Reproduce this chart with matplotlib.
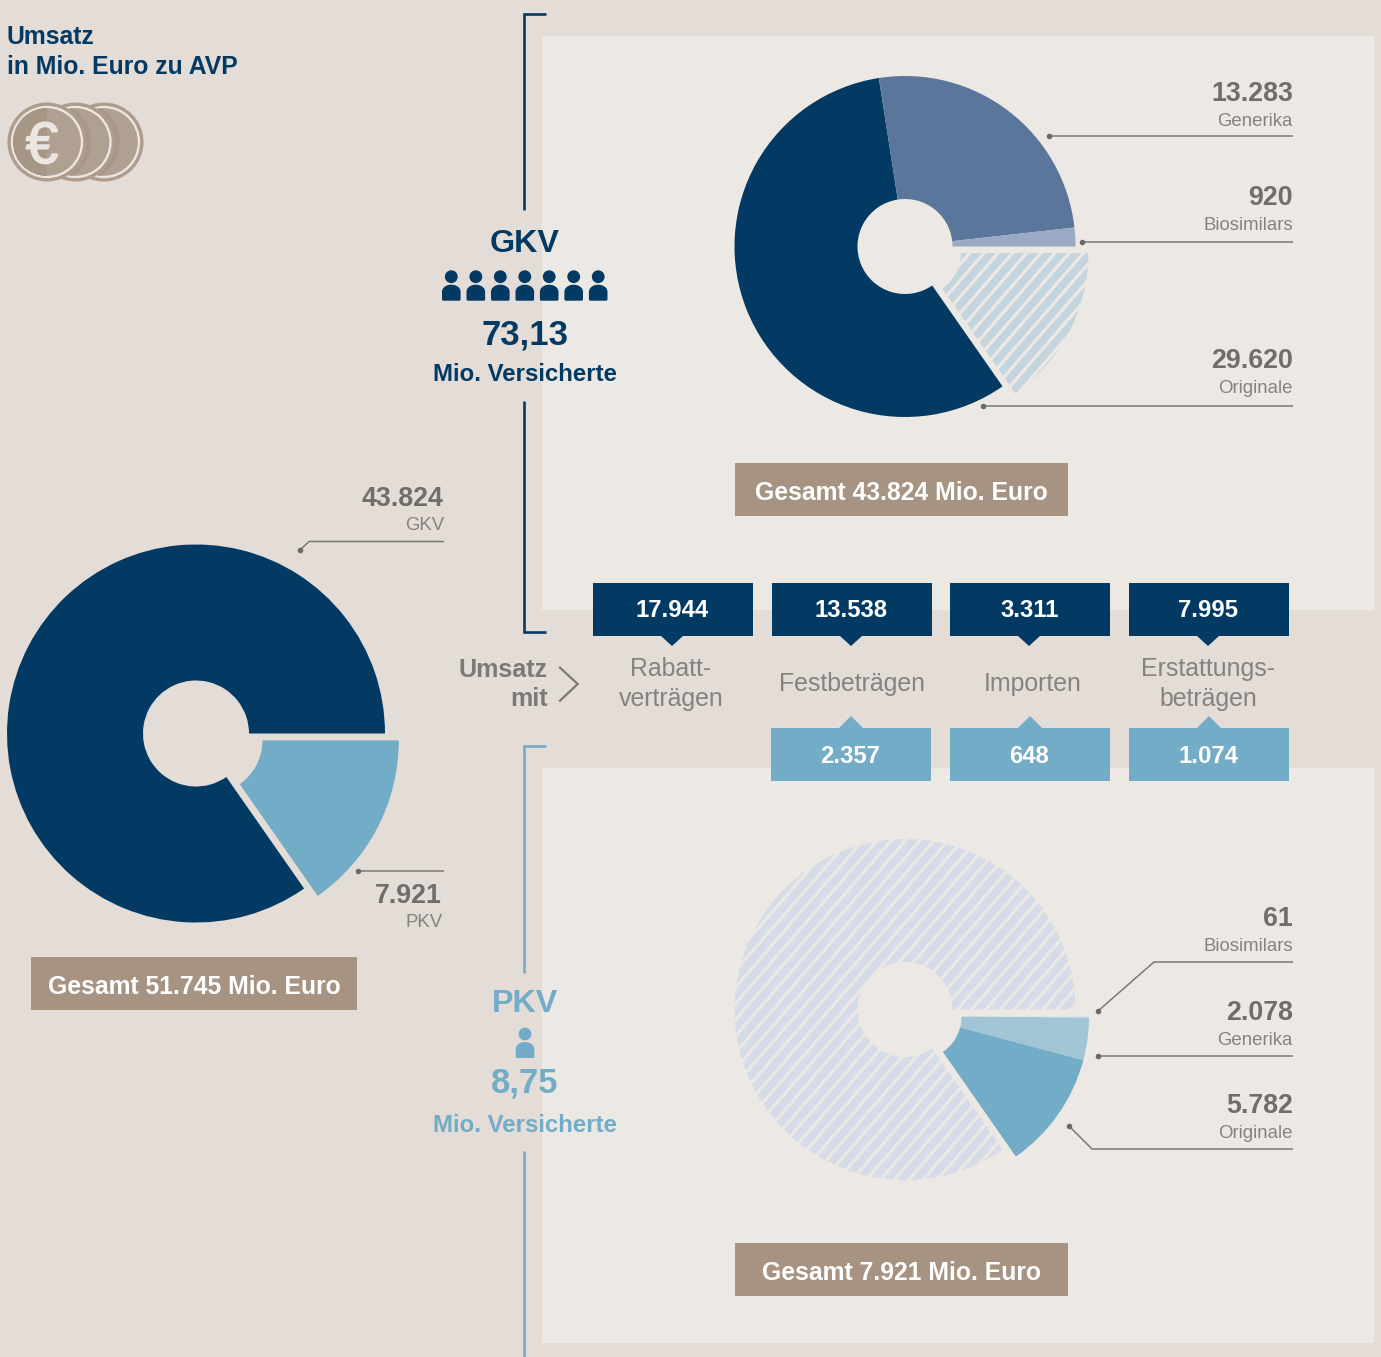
import numpy as np
import matplotlib
matplotlib.use("Agg")
import matplotlib.pyplot as plt
import matplotlib.patheffects as pe
from matplotlib.patches import Rectangle, Circle, Polygon, Wedge

plt.rcParams['font.family'] = ['Liberation Sans', 'DejaVu Sans']

# data
total_labels = ['PKV', 'GKV']
total_values = [7921, 43824]
gkv_labels = ['Generika', 'Biosimilars', 'Originale']
gkv_values = [13283, 920, 29620]
pkv_labels = ['Biosimilars', 'Generika', 'Originale']
pkv_values = [61, 2078, 5782]
gkv_box_values = [17944, 13538, 3311, 7995]
pkv_box_values = [2357, 648, 1074]
box_labels = ['Rabatt-\nverträgen', 'Festbeträgen', 'Importen', 'Erstattungs-\nbeträgen']
insured_gkv = '73,13'
insured_pkv = '8,75'

# colours
BG = '#e3dcd7'
PANEL = '#ece9e4'
NAVY = '#023a63'
LIGHTBLUE = '#73acc7'
BROWN = '#a69381'
GREY = '#6f6e6a'
GREY2 = '#85837f'
LINE = '#7b7975'


def num(v):
    return f"{v:,}".replace(",", ".")


fig = plt.figure(figsize=(13.81, 13.57), dpi=100, facecolor=BG)
ax = fig.add_axes([0, 0, 1, 1])


def stripes(ax, wedge, cx, cy, R, color):
    # diagonale Streifen, auf das Kreissegment geclippt
    slope = 1.15
    for x0 in np.arange(cx - 2.5 * R, cx + 2.5 * R, 14.2):
        l, = ax.plot([x0 - R, x0 + R], [cy + slope * R, cy - slope * R],
                     color=color, lw=5.4, solid_capstyle='butt', zorder=3)
        l.set_clip_path(wedge)


def donut(ax, cx, cy, values, colors, moved, shift, R=170.5, r=47.5, moved_r=43.5, moved_R=171):
    wedges, _ = ax.pie(values, colors=colors, center=(cx, cy), radius=R, startangle=0,
                       counterclock=True, normalize=True, frame=True,
                       wedgeprops=dict(width=R - r, linewidth=0, zorder=2))
    # Die herausgezogenen Segmente bewegen sich gemeinsam
    a = 2 * np.pi * sum(values[i] for i in moved) / sum(values) / 2
    for i in moved:
        wedges[i].set_center((cx + shift * np.cos(a), cy + shift * np.sin(a)))
        wedges[i].set_radius(moved_R)
        wedges[i].set_width(moved_R - moved_r)
    return wedges


def leader(ax, xs, ys):
    ax.plot(xs, ys, color=LINE, lw=1.1, zorder=4, solid_joinstyle='miter', solid_capstyle='butt')
    ax.plot(xs[0], ys[0], 'o', color='#6a6966', ms=4, mew=0, zorder=4)


def person(ax, x, head_y, color):
    ax.add_patch(Circle((x, head_y), 6.4, fc=color, lw=0, zorder=4))
    top = head_y + 8
    bot = head_y + 24
    t = np.linspace(np.pi, 2 * np.pi, 30)
    xs = x + 9.3 * np.cos(t)
    ys = top + 7 + 7 * np.sin(t)
    pts = list(zip(xs, ys)) + [(x + 9.3, bot - 1), (x + 8.3, bot), (x - 8.3, bot), (x - 9.3, bot - 1)]
    ax.add_patch(Polygon(pts, closed=True, fc=color, lw=0, zorder=4))


# Hintergrundflaechen
ax.add_patch(Rectangle((542, 36), 832, 574, fc=PANEL, lw=0, zorder=0))
ax.add_patch(Rectangle((542, 768), 832, 575, fc=PANEL, lw=0, zorder=0))

# Titel
ax.text(7, 44, 'Umsatz', color=NAVY, fontsize=17.8, fontweight='bold', va='baseline')
ax.text(7, 74, 'in Mio. Euro zu AVP', color=NAVY, fontsize=17.8, fontweight='bold', va='baseline')

# Muenzen
for i, x in enumerate([104, 75.5]):
    ax.add_patch(Circle((x, 142), 39.5, fc='#ae9c8c', lw=0, zorder=2))
    ax.add_patch(Circle((x, 142), 35, fc='#b0a091', ec='#ebe6e1', lw=1.7, zorder=2))
    w = Circle((x - 24.5, 142), 40, fc='#a89788', lw=0, zorder=2)
    ax.add_patch(w)
    w.set_clip_path(Circle((x, 142), 34, transform=ax.transData))
ax.add_patch(Circle((47, 142), 39.5, fc='#ae9c8c', lw=0, zorder=3))
ax.add_patch(Circle((47, 142), 35, fc='#b0a091', ec='#ebe6e1', lw=1.7, zorder=3))
ax.add_patch(Wedge((47, 142), 34, 90, 270, fc='#a69686', lw=0, zorder=3))
ax.text(42, 142, '€', color='#ebe6e1', fontsize=42, ha='center', va='center_baseline', zorder=4,
        path_effects=[pe.withStroke(linewidth=1.2, foreground='#ebe6e1')])

# linke Torte
wedges = donut(ax, 196, 733.5, total_values, [LIGHTBLUE, NAVY], [0], 14.9, R=189, r=53, moved_r=53.3, moved_R=189.6)
leader(ax, [300, 309, 444], [550, 541.5, 541.5])
leader(ax, [358, 444], [871, 871])
ax.text(444, 506, num(total_values[1]), color=GREY, fontsize=19.3, fontweight='bold', ha='right')
ax.text(444, 530, total_labels[1], color=GREY2, fontsize=13.4, ha='right')
ax.text(442, 903, num(total_values[0]), color=GREY, fontsize=19.3, fontweight='bold', ha='right')
ax.text(443, 927, total_labels[0], color=GREY2, fontsize=13.4, ha='right')

# GKV Torte: Originale, Generika, Biosimilars, dazu PKV als Schraffur
vals = [total_values[0], gkv_values[2], gkv_values[0], gkv_values[1]]
wedges = donut(ax, 905, 246.5, vals, ['none', NAVY, '#5b769b', '#9aa9c4'], [0], 14)
stripes(ax, wedges[0], 920, 250, 175, '#c5d5dd')
leader(ax, [1049, 1293], [136, 136])
leader(ax, [1082, 1293], [242, 242])
leader(ax, [983, 1293], [406, 406])
for lab, v, y in zip(gkv_labels, gkv_values, [101, 205, 368]):
    ax.text(1293, y, num(v), color=GREY, fontsize=19.3, fontweight='bold', ha='right')
    ax.text(1293, y + 25, lab, color=GREY2, fontsize=13.4, ha='right')

# PKV Torte
vals = pkv_values + [total_values[1]]
wedges = donut(ax, 905, 1009.5, vals, ['#d6e3ea', '#a2c5d6', LIGHTBLUE, 'none'], [0, 1, 2], 14.7)
stripes(ax, wedges[3], 905, 1009.5, 175, '#d6dbe8')
leader(ax, [1098, 1154, 1293], [1011, 962, 962])
leader(ax, [1098, 1293], [1055.5, 1055.5])
leader(ax, [1069, 1092, 1293], [1126, 1149, 1149])
for lab, v, y in zip(pkv_labels, pkv_values, [926, 1020, 1113]):
    ax.text(1293, y, num(v), color=GREY, fontsize=19.3, fontweight='bold', ha='right')
    ax.text(1293, y + 25, lab, color=GREY2, fontsize=13.4, ha='right')

# Gesamt-Kaesten
for x0, y0, w, val in [(31, 957, 326, sum(total_values)), (735, 463, 333, total_values[1]),
                       (735, 1243, 333, total_values[0])]:
    ax.add_patch(Rectangle((x0, y0), w, 53, fc=BROWN, lw=0, zorder=2))
    ax.text(x0 + w / 2, y0 + 27, f'Gesamt {num(val)} Mio. Euro', color='white', fontsize=17.8,
            fontweight='bold', ha='center', va='center_baseline', zorder=3)

# Klammern
bracket = dict(lw=1.9, solid_joinstyle='miter', solid_capstyle='butt', zorder=1)
ax.plot([546, 524, 524], [14, 14, 210], color=NAVY, **bracket)
ax.plot([524, 524, 546], [401, 632, 632], color=NAVY, **bracket)
ax.plot([546, 524, 524], [746, 746, 973], color=LIGHTBLUE, **bracket)
ax.plot([524, 524], [1151, 1357], color=LIGHTBLUE, **bracket)

# GKV / PKV Beschriftung
for x in [451.3, 475.8, 500.3, 524.8, 549.2, 573.7, 598.2]:
    person(ax, x, 276.7, NAVY)
person(ax, 525, 1034, LIGHTBLUE)
center = dict(fontweight='bold', ha='center', va='center_baseline')
ax.text(525, 241, 'GKV', color=NAVY, fontsize=23.2, **center)
ax.text(525, 331, insured_gkv, color=NAVY, fontsize=25, **center)
ax.text(525, 372, 'Mio. Versicherte', color=NAVY, fontsize=17.3, **center)
ax.text(525, 1000, 'PKV', color=LIGHTBLUE, fontsize=23.2, **center)
ax.text(525, 1080, insured_pkv, color=LIGHTBLUE, fontsize=25, **center)
ax.text(525, 1123, 'Mio. Versicherte', color=LIGHTBLUE, fontsize=17.3, **center)

# Umsatz mit
ax.text(548, 677, 'Umsatz', color='#7a7a76', fontsize=18.1, fontweight='bold', ha='right')
ax.text(548, 706, 'mit', color='#7a7a76', fontsize=18.1, fontweight='bold', ha='right')
ax.plot([560, 577.7, 560], [667.7, 684, 700.7], color=LINE, lw=1.6, solid_joinstyle='miter')

# Kaesten oben
for x0, v in zip([593, 772, 950, 1129], gkv_box_values):
    ax.add_patch(Rectangle((x0, 583), 160, 53, fc=NAVY, lw=0, zorder=2))
    xm = x0 + 79
    ax.add_patch(Polygon([(xm - 11, 636), (xm + 11, 636), (xm, 646)], fc=NAVY, lw=0, zorder=2))
    ax.text(x0 + 79.5, 608, num(v), color='white', fontsize=17.2, fontweight='bold', ha='center',
            va='center_baseline', zorder=3)

# Kaesten unten
for x0, v in zip([771, 950, 1129], pkv_box_values):
    ax.add_patch(Rectangle((x0, 728), 160, 53, fc=LIGHTBLUE, lw=0, zorder=2))
    xm = x0 + 80
    ax.add_patch(Polygon([(xm - 12, 728), (xm + 12, 728), (xm, 716)], fc=LIGHTBLUE, lw=0, zorder=2))
    ax.text(x0 + 79, 754, num(v), color='white', fontsize=17.2, fontweight='bold', ha='center',
            va='center_baseline', zorder=3)

# Kategorien
for xm, lab in zip([671, 852, 1033, 1208], box_labels):
    ax.text(xm, 684, lab, color=GREY2, fontsize=17.9, ha='center', va='center',
            linespacing=1.27)

ax.set_xlim(0, 1381)
ax.set_ylim(1357, 0)
ax.axis('off')
fig.savefig('out.png', dpi=100, facecolor=BG)
